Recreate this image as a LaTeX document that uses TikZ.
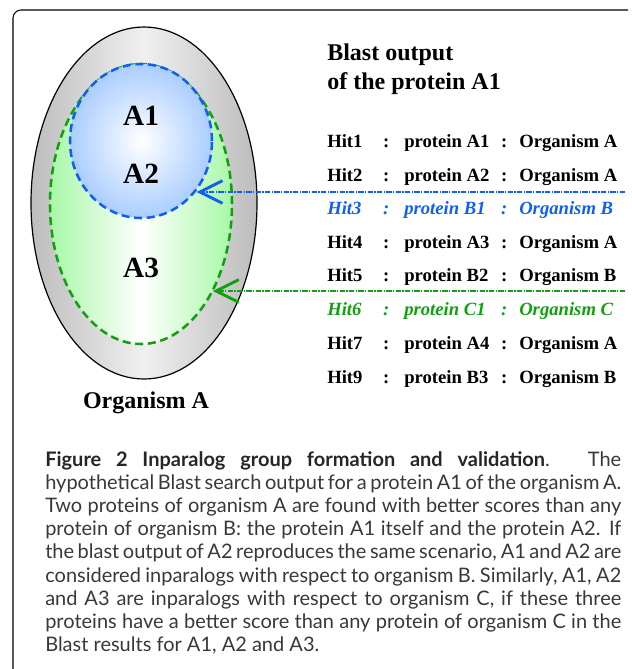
\documentclass[tikz,border=0pt]{standalone}
\usepackage{fontspec}
\setmainfont{Liberation Serif}
\newfontfamily\capfont{Lato}
\usetikzlibrary{arrows.meta,positioning,calc,shapes.geometric}

\definecolor{hitblue}{RGB}{16,96,240}
\definecolor{hitgreen}{RGB}{16,160,16}
\definecolor{palegreen}{RGB}{168,248,168}
\definecolor{paleblue}{RGB}{170,205,255}

\newcommand{\hitrow}[3]{\makebox[37.5pt][l]{#1}\makebox[13.5pt]{:}\hspace{6.75pt}\makebox[68.25pt][l]{#2}\makebox[13.5pt]{:}\hspace{4.5pt}#3}

\begin{document}
\begin{tikzpicture}[x=0.75pt, y=-0.75pt,
  organism/.style={draw, ellipse, inner sep=0pt, line width=0.9pt},
  group/.style={ellipse, inner sep=0pt, line width=1.9pt, dash pattern=on 6pt off 3.5pt},
  plabel/.style={font=\fontsize{22pt}{22pt}\selectfont\bfseries, anchor=base, inner sep=0pt},
  title/.style={font=\fontsize{18pt}{22pt}\selectfont\bfseries, anchor=base west, inner sep=0pt},
  hit/.style={font=\fontsize{14pt}{16pt}\selectfont\bfseries, anchor=base west, inner sep=0pt},
  cut/.style={line width=2.1pt, dash pattern=on 4pt off 1pt on 1pt off 1pt, -{Straight Barb[length=17pt, width=17pt, line width=2.2pt]}}
]
\useasboundingbox (0,0) rectangle (632,669);
\draw[line width=0.8pt, rounded corners=6pt] (628,10) -- (13,10) -- (13,669);

\node[organism, minimum width=169.5pt, minimum height=264pt, left color=gray!52, right color=gray!52, middle color=gray!12] (orgA) at (144,203) {};
\node[group, draw=hitgreen, minimum width=136.5pt, minimum height=210pt, left color=palegreen, right color=palegreen, middle color=white] (grpC) at (141,204) {};
\node[group, draw=hitblue, minimum width=106.5pt, minimum height=115.5pt, inner color=white, outer color=paleblue] (grpB) at (141,141) {};

\node[plabel] (a1) at (141,125) {A1};
\node[plabel] (a2) at (141,183) {A2};
\node[plabel] (a3) at (141,277) {A3};
\node[title, anchor=base] (orgname) at (146,408) {Organism A};

\node[title] (blast) at (327,60) {Blast output};
\node[title] (blast2) at (327,89) {of the protein A1};

\node[hit] (hit1) at (327,147) {\hitrow{Hit1}{protein A1}{Organism A}};
\node[hit] (hit2) at (327,181) {\hitrow{Hit2}{protein A2}{Organism A}};
\node[hit, text=hitblue, font=\fontsize{14pt}{16pt}\selectfont\bfseries\itshape] (hit3) at (327,214) {\hitrow{Hit3}{protein B1}{Organism B}};
\node[hit] (hit4) at (327,248) {\hitrow{Hit4}{protein A3}{Organism A}};
\node[hit] (hit5) at (327,281) {\hitrow{Hit5}{protein B2}{Organism B}};
\node[hit, text=hitgreen, font=\fontsize{14pt}{16pt}\selectfont\bfseries\itshape] (hit6) at (327,315) {\hitrow{Hit6}{protein C1}{Organism C}};
\node[hit] (hit7) at (327,349) {\hitrow{Hit7}{protein A4}{Organism A}};
\node[hit] (hit9) at (327,383) {\hitrow{Hit9}{protein B3}{Organism B}};

\coordinate (cutB) at (625,192);
\coordinate (cutC) at (625,291);
\draw[cut, hitblue] (cutB) -- (cutB -| grpB.-42);
\draw[cut, hitgreen] (cutC) -- (cutC -| grpC.-51);

\node[anchor=north west, inner sep=0pt, text width=432pt, align=justify, text=black!78,
  font=\capfont\fontsize{15pt}{17.4pt}\selectfont] (caption) at (45,451)
  {{\bfseries\color{black!85}Figure 2 Inparalog group formation and validation}. The\linebreak
  hypothetical Blast search output for a protein A1 of the organism A.\linebreak
  Two proteins of organism A are found with better scores than any\linebreak
  protein of organism B: the protein A1 itself and the protein A2. If\linebreak
  the blast output of A2 reproduces the same scenario, A1 and A2 are\linebreak
  considered inparalogs with respect to organism B. Similarly, A1, A2\linebreak
  and A3 are inparalogs with respect to organism C, if these three\linebreak
  proteins have a better score than any protein of organism C in the\linebreak
  Blast results for A1, A2 and A3.};
\end{tikzpicture}
\end{document}
